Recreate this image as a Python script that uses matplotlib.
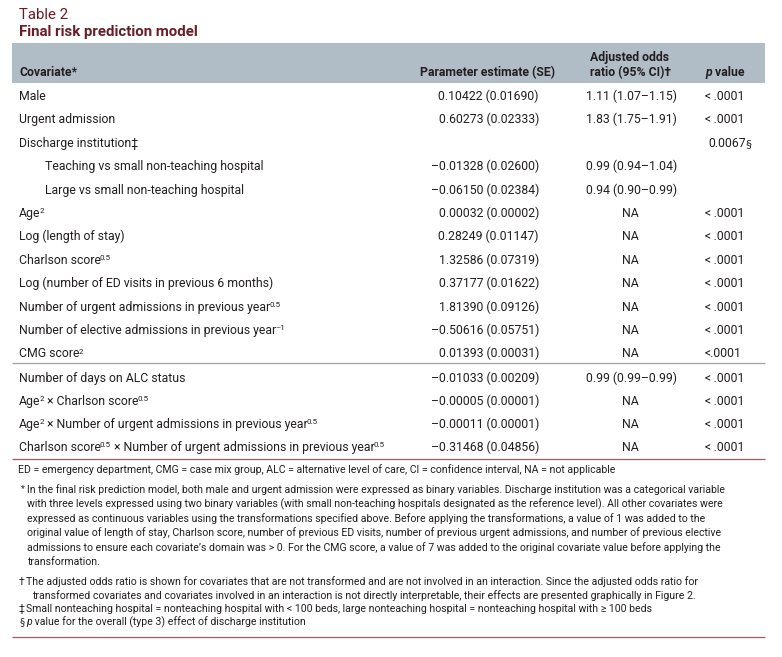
import re
import matplotlib
matplotlib.use('Agg')
import matplotlib.pyplot as plt

# === Table content ===
covariates = [
    "Male", "Urgent admission", "Discharge institution‡",
    "Teaching vs small non-teaching hospital", "Large vs small non-teaching hospital",
    "Age^{2}", "Log (length of stay)", "Charlson score^{0.5}",
    "Log (number of ED visits in previous 6 months)",
    "Number of urgent admissions in previous year^{0.5}",
    "Number of elective admissions in previous year^{–1}",
    "CMG score^{2}",
    "Number of days on ALC status",
    "Age^{2} × Charlson score^{0.5}",
    "Age^{2} × Number of urgent admissions in previous year^{0.5}",
    "Charlson score^{0.5} × Number of urgent admissions in previous year^{0.5}",
]
indented = [False, False, False, True, True] + [False] * 11
estimates = [
    "0.10422 (0.01690)", "0.60273 (0.02333)", "", "–0.01328 (0.02600)",
    "–0.06150 (0.02384)", "0.00032 (0.00002)", "0.28249 (0.01147)",
    "1.32586 (0.07319)", "0.37177 (0.01622)", "1.81390 (0.09126)",
    "–0.50616 (0.05751)", "0.01393 (0.00031)", "–0.01033 (0.00209)",
    "–0.00005 (0.00001)", "–0.00011 (0.00001)", "–0.31468 (0.04856)",
]
odds_ratios = [
    "1.11 (1.07–1.15)", "1.83 (1.75–1.91)", "", "0.99 (0.94–1.04)",
    "0.94 (0.90–0.99)", "NA", "NA", "NA", "NA", "NA", "NA", "NA",
    "0.99 (0.99–0.99)", "NA", "NA", "NA",
]
p_values = [
    "<\u2009.0001", "<\u2009.0001", "0.0067§", "", "", "<\u2009.0001", "<\u2009.0001",
    "<\u2009.0001", "<\u2009.0001", "<\u2009.0001", "<\u2009.0001", "<.0001",
    "<\u2009.0001", "<\u2009.0001", "<\u2009.0001", "<\u2009.0001",
]
abbrev_note = ("ED = emergency department, CMG = case mix group, ALC = alternative level of care, "
               "CI = confidence interval, NA = not applicable")
star_note = [
    "In the final risk prediction model, both male and urgent admission were expressed as binary variables. Discharge institution was a categorical variable",
    "with three levels expressed using two binary variables (with small non-teaching hospitals designated as the reference level). All other covariates were",
    "expressed as continuous variables using the transformations specified above. Before applying the transformations, a value of 1 was added to the",
    "original value of length of stay, Charlson score, number of previous ED visits, number of previous urgent admissions, and number of previous elective",
    "admissions to ensure each covariate’s domain was > 0. For the CMG score, a value of 7 was added to the original covariate value before applying the",
    "transformation.",
]
dagger_note = [
    "The adjusted odds ratio is shown for covariates that are not transformed and are not involved in an interaction. Since the adjusted odds ratio for",
    "transformed covariates and covariates involved in an interaction is not directly interpretable, their effects are presented graphically in Figure 2.",
]
ddagger_note = ("Small nonteaching hospital = nonteaching hospital with < 100 beds, "
                "large nonteaching hospital = nonteaching hospital with ≥ 100 beds")
section_note = " value for the overall (type 3) effect of discharge institution"

# === Style ===
plt.rcParams['font.family'] = ['Roboto', 'DejaVu Sans']
SECT_FONT = ['Lato', 'DejaVu Sans']   # Roboto's § is oversized
TXT = '#231f20'
RED = '#6b1d24'
BAND = '#b1bdc6'
RULE_RED = '#9c5f5f'
RULE_GRAY = '#a3a3a3'

W, H = 782, 657
fig = plt.figure(figsize=(W / 100, H / 100), dpi=100)
ax = fig.add_axes([0, 0, 1, 1])
ax.set_xlim(0, W)
ax.set_ylim(H, 0)
ax.axis('off')
renderer = fig.canvas.get_renderer()


def text_width(s, size, **kw):
    a = ax.text(0, 0, '|' + s + '|', fontsize=size, **kw)
    b = ax.text(0, 0, '||', fontsize=size, **kw)
    w = a.get_window_extent(renderer).width - b.get_window_extent(renderer).width
    a.remove()
    b.remove()
    return w


def fit_size(s, target, **kw):
    return 10 * target / text_width(s, 10, **kw)


def draw_runs(x, y, s, size, color=TXT, **kw):
    parts = re.split(r'\^\{([^}]*)\}', s)
    for i, part in enumerate(parts):
        if not part:
            continue
        sup = i % 2 == 1
        fs = size * 0.65 if sup else size
        dy = -size * 0.42 if sup else 0
        dx = -1 if sup else 0
        ax.text(x + dx, y + dy, part, fontsize=fs, color=color, va='baseline', ha='left', **kw)
        x += text_width(part, fs, **kw) + dx
    return x


BODY = fit_size("Log (number of ED visits in previous 6 months)", 255)
NOTE = fit_size(abbrev_note, 599)
TITLE = fit_size("Final risk prediction model", 180, fontweight='bold')

# === Title ===
ax.text(19, 19, "Table 2", fontsize=TITLE, color=RED, va='baseline')
ax.text(19, 36, "Final risk prediction model", fontsize=TITLE, color=RED,
        fontweight='bold', va='baseline')

# === Header band ===
ax.add_patch(plt.Rectangle((12, 43), 753, 40, color=BAND, lw=0))
hb = dict(fontsize=BODY, color=TXT, fontweight='bold', va='baseline')
ax.text(19, 76, "Covariate*", ha='left', **hb)
ax.text(487, 76, "Parameter estimate (SE)", ha='center', **hb)
ax.text(630, 61, "Adjusted odds", ha='center', **hb)
ax.text(630, 76, "ratio (95% CI)†", ha='center', **hb)
ax.text(705, 76, "p", ha='left', fontstyle='italic', **hb)
ax.text(705 + text_width("p", BODY, fontweight='bold', fontstyle='italic'), 76,
        " value", ha='left', **hb)

# === Body rows ===
baselines = [100 + 23.4 * i for i in range(12)] + [382 + 23 * i for i in range(4)]
for y, cov, ind, est, odr, pv in zip(baselines, covariates, indented,
                                      estimates, odds_ratios, p_values):
    draw_runs(45 if ind else 19, y, cov, BODY)
    ax.text(539, y, est, fontsize=BODY, color=TXT, ha='right', va='baseline')
    if odr == "NA":
        ax.text(630, y, odr, fontsize=BODY, color=TXT, ha='center', va='baseline')
    else:
        ax.text(677, y, odr, fontsize=BODY, color=TXT, ha='right', va='baseline')
    if pv.endswith('§'):
        ax.text(708, y, pv[:-1], fontsize=BODY, color=TXT, ha='left', va='baseline')
        ax.text(708 + text_width(pv[:-1], BODY), y, '§', fontsize=BODY, color=TXT,
                ha='left', va='baseline', family=SECT_FONT)
    else:
        ax.text(705, y, pv, fontsize=BODY, color=TXT, ha='left', va='baseline')

# === Rules ===
ax.plot([12, 765], [363, 363], color=RULE_GRAY, lw=0.9, solid_capstyle='butt')
ax.plot([12, 765], [459, 459], color=RULE_RED, lw=0.9, solid_capstyle='butt')
ax.plot([12, 765], [637, 637], color=RULE_RED, lw=0.9, solid_capstyle='butt')

# === Footnotes ===
nt = dict(fontsize=NOTE, color=TXT, va='baseline', ha='left')
ax.text(18, 473, abbrev_note, **nt)
ax.text(21, 491, "*", fontsize=NOTE * 0.85, color=TXT, va='baseline')
for i, line in enumerate(star_note):
    ax.text(27, 493 + 14.4 * i, line, **nt)
ax.text(19, 585, "†", **nt)
ax.text(26, 585, dagger_note[0], **nt)
ax.text(32, 599, dagger_note[1], **nt)
ax.text(19, 612, "‡", **nt)
ax.text(26, 612, ddagger_note, **nt)
ax.text(19, 625, "§", family=SECT_FONT, **nt)
ax.text(26, 625, "p", fontstyle='italic', **nt)
ax.text(26 + text_width("p", NOTE, fontstyle='italic'), 625, section_note, **nt)

fig.savefig('out.png', dpi=100)
